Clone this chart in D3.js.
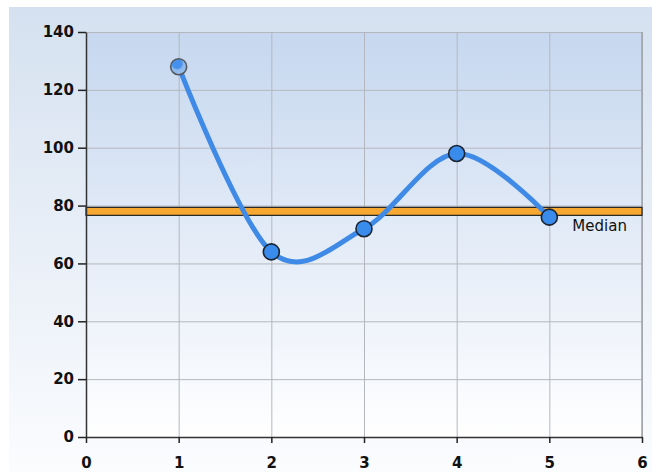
<!DOCTYPE html>
<html>
<head>
<meta charset="utf-8">
<script src="https://cdn.jsdelivr.net/npm/d3@7"></script>
<style>
  html, body { margin: 0; padding: 0; background: #ffffff; }
  svg { display: block; }
</style>
</head>
<body>
<div id="chart"></div>
<script>
let xValues = [1, 2, 3, 4, 5];
let yValues = [128, 64, 72, 98, 76];
let medianValue = 78;
let medianLabel = 'Median';
let xTicks = [0, 1, 2, 3, 4, 5, 6];
let yTicks = [0, 20, 40, 60, 80, 100, 120, 140];

let width = 652;
let height = 472;
let plot = { left: 86, right: 642, top: 32, bottom: 437 };

let svg = d3.select('#chart').append('svg')
            .attr('width', width)
            .attr('height', height);

let defs = svg.append('defs');

let outerGrad = defs.append('linearGradient')
                    .attr('id', 'outerGrad')
                    .attr('x1', 0).attr('y1', 0).attr('x2', 0).attr('y2', 1);
outerGrad.append('stop').attr('offset', '0%').attr('stop-color', '#d5e1f0');
outerGrad.append('stop').attr('offset', '100%').attr('stop-color', '#fbfcfe');

let plotGrad = defs.append('linearGradient')
                   .attr('id', 'plotGrad')
                   .attr('x1', 0).attr('y1', 0).attr('x2', 0).attr('y2', 1);
plotGrad.append('stop').attr('offset', '0%').attr('stop-color', '#c6d7ef');
plotGrad.append('stop').attr('offset', '100%').attr('stop-color', '#ffffff');

let firstGrad = defs.append('radialGradient')
                    .attr('id', 'firstGrad')
                    .attr('cx', '40%').attr('cy', '30%').attr('r', '70%');
firstGrad.append('stop').attr('offset', '0%').attr('stop-color', '#3f8ff0');
firstGrad.append('stop').attr('offset', '45%').attr('stop-color', '#4a93ea');
firstGrad.append('stop').attr('offset', '55%').attr('stop-color', '#8ab6ec');
firstGrad.append('stop').attr('offset', '100%').attr('stop-color', '#9cc0ee');

// Background panel
svg.append('rect')
   .attr('x', 9).attr('y', 7)
   .attr('width', width - 9).attr('height', height - 7)
   .attr('fill', 'url(#outerGrad)');

svg.append('rect')
   .attr('x', plot.left).attr('y', plot.top)
   .attr('width', plot.right - plot.left).attr('height', plot.bottom - plot.top)
   .attr('fill', 'url(#plotGrad)');

let xScale = d3.scaleLinear().domain([0, 6]).range([plot.left, plot.right]);
let yScale = d3.scaleLinear().domain([0, 140]).range([plot.bottom, plot.top]);

// Gridlines
svg.append('g')
   .attr('class', 'grid x')
   .attr('transform', `translate(0, ${plot.bottom})`)
   .call(d3.axisBottom(xScale).tickValues(xTicks).tickSize(-(plot.bottom - plot.top)).tickFormat(''))
   .call(g => g.select('.domain').remove())
   .selectAll('line')
   .attr('stroke', '#b4b8be')
   .attr('stroke-width', 1);

svg.append('g')
   .attr('class', 'grid y')
   .attr('transform', `translate(${plot.left}, 0)`)
   .call(d3.axisLeft(yScale).tickValues(yTicks).tickSize(-(plot.right - plot.left)).tickFormat(''))
   .call(g => g.select('.domain').remove())
   .selectAll('line')
   .attr('stroke', '#b4b8be')
   .attr('stroke-width', 1);

// Right border of plot area
svg.append('line')
   .attr('x1', plot.right).attr('x2', plot.right)
   .attr('y1', plot.top).attr('y2', plot.bottom)
   .attr('stroke', '#9ea3a9').attr('stroke-width', 1.5);

// Median band
svg.append('rect')
   .attr('x', plot.left)
   .attr('y', yScale(medianValue) - 4)
   .attr('width', plot.right - plot.left)
   .attr('height', 8)
   .attr('fill', '#f6a830')
   .attr('stroke', '#222222')
   .attr('stroke-width', 1.2);

svg.append('text')
   .attr('x', xScale(5) + 23)
   .attr('y', yScale(medianValue) + 20)
   .attr('font-family', 'DejaVu Sans, Verdana, sans-serif')
   .attr('font-size', '15px')
   .attr('fill', '#111111')
   .text(medianLabel);

// Axes
let xAxis = svg.append('g')
   .attr('class', 'xaxis')
   .attr('transform', `translate(0, ${plot.bottom})`)
   .call(d3.axisBottom(xScale).tickValues(xTicks).tickFormat(d3.format('d'))
           .tickSizeInner(6).tickSizeOuter(0).tickPadding(14));

let yAxis = svg.append('g')
   .attr('class', 'yaxis')
   .attr('transform', `translate(${plot.left}, 0)`)
   .call(d3.axisLeft(yScale).tickValues(yTicks).tickFormat(d3.format('d'))
           .tickSizeInner(8).tickSizeOuter(0).tickPadding(4));

[xAxis, yAxis].forEach(a => {
  a.select('.domain').attr('stroke', '#333333').attr('stroke-width', 1.5);
  a.selectAll('.tick line').attr('stroke', '#222222').attr('stroke-width', 1.5);
  a.selectAll('text')
   .attr('font-family', 'DejaVu Sans, Verdana, sans-serif')
   .attr('font-size', '15px')
   .attr('font-weight', 'bold')
   .attr('fill', '#111111');
});

// Series line
let points = xValues.map((x, i) => [x, yValues[i]]);
let line = d3.line()
             .x(d => xScale(d[0]))
             .y(d => yScale(d[1]))
             .curve(d3.curveCatmullRom.alpha(0));

svg.append('path')
   .datum(points)
   .attr('d', line)
   .attr('fill', 'none')
   .attr('stroke', '#3f8ae6')
   .attr('stroke-width', 5)
   .attr('stroke-linecap', 'round');

// Markers
svg.selectAll('circle.marker')
   .data(points)
   .enter()
   .append('circle')
   .attr('class', 'marker')
   .attr('cx', d => xScale(d[0]))
   .attr('cy', d => yScale(d[1]))
   .attr('r', 8)
   .attr('fill', (d, i) => i === 0 ? 'url(#firstGrad)' : '#3a8cec')
   .attr('stroke', (d, i) => i === 0 ? '#555a60' : '#1b2430')
   .attr('stroke-width', 1.6);
</script>
</body>
</html>
